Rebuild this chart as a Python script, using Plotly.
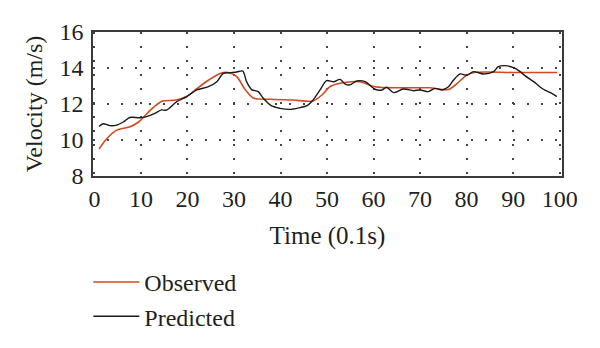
import plotly.graph_objects as go

# Observed velocity samples (time in 0.1 s, velocity in m/s)
obs_t = [1, 2.6, 4.8, 7.5, 9.5, 12, 14.5, 17.5, 20, 22, 24.5, 27, 28.8, 30.6,
         32.4, 34.2, 37.7, 42.7, 47, 48.9, 50.6, 52.8, 57, 60.3, 65.7, 72,
         76, 78, 80, 82, 90, 99.5]
obs_v = [9.5, 10.06, 10.55, 10.72, 11.0, 11.65, 12.15, 12.22, 12.45, 12.85,
         13.32, 13.7, 13.75, 13.52, 12.8, 12.33, 12.26, 12.22, 12.17, 12.5,
         12.96, 13.15, 13.24, 12.96, 12.9, 12.9, 12.8, 13.15, 13.6, 13.76,
         13.75, 13.75]

# Predicted velocity samples
pred_t = [1, 1.9, 3.3, 4.8, 6.2, 7.6, 9.8, 11.2, 13, 14.4, 15.5, 17.7, 19.8,
          22, 24.5, 26.3, 27.7, 29.1, 30.6, 31.9, 32.7, 33.8, 35.2, 36.3,
          38.1, 39.9, 42, 44.2, 45.6, 47, 48.5, 49.9, 51.4, 52.8, 53.9, 54.9,
          56.4, 58.2, 60.3, 61.8, 62.8, 64.3, 66.4, 68.6, 70, 71.8, 73.2,
          74.7, 76.1, 77.2, 78.6, 80, 81.5, 83.6, 85.8, 86.8, 88.3, 90.1,
          91.5, 92.6, 94.4, 96.5, 98, 99.4]
pred_v = [10.75, 10.9, 10.8, 10.83, 11.0, 11.25, 11.24, 11.3, 11.48, 11.67,
          11.66, 12.13, 12.4, 12.78, 12.96, 13.24, 13.7, 13.74, 13.78, 13.83,
          13.24, 12.8, 12.69, 12.32, 11.89, 11.76, 11.7, 11.8, 11.89, 12.22,
          12.78, 13.3, 13.24, 13.37, 13.11, 13.06, 13.28, 13.24, 12.82, 12.78,
          12.93, 12.63, 12.83, 12.74, 12.78, 12.69, 12.87, 12.78, 12.96, 13.33,
          13.67, 13.6, 13.8, 13.67, 13.8, 14.07, 14.13, 14.02, 13.8, 13.56,
          13.24, 12.82, 12.63, 12.41]

x_ticks = [0, 10, 20, 30, 40, 50, 60, 70, 80, 90, 100]
y_ticks = [8, 10, 12, 14, 16]

FONT = "Liberation Serif"
TEXT = "#231f20"
FRAME = "#3a3a3a"

fig = go.Figure()
fig.add_trace(go.Scatter(
    x=obs_t, y=obs_v, name="Observed", mode="lines",
    line=dict(color="#d44a1c", width=1.6, shape="spline", smoothing=0.8),
))
fig.add_trace(go.Scatter(
    x=pred_t, y=pred_v, name="Predicted", mode="lines",
    line=dict(color="#1a1a1a", width=1.4, shape="spline", smoothing=0.8),
))

fig.update_layout(
    width=600, height=348,
    margin=dict(l=93, r=38, t=32, b=172, autoexpand=False),
    paper_bgcolor="white", plot_bgcolor="white",
    font=dict(family=FONT, size=24, color=TEXT),
    showlegend=True,
    legend=dict(
        x=-0.01, xref="paper", y=0.253, yref="container",
        xanchor="left", yanchor="top",
        font=dict(family=FONT, size=24, color=TEXT),
        bgcolor="rgba(0,0,0,0)", itemwidth=46, tracegroupgap=0,
    ),
)

fig.update_xaxes(
    range=[-0.3, 100.5], tickvals=x_ticks, ticktext=[str(v) for v in x_ticks],
    showline=True, mirror=True, linecolor=FRAME, linewidth=1.5,
    showgrid=True, gridcolor="#444", gridwidth=1.5, griddash="1.5px,12.5px",
    zeroline=False, ticks="", ticklen=0,
    tickfont=dict(family=FONT, size=24, color=TEXT),
    title=dict(text="Time (0.1s)", font=dict(family=FONT, size=25, color=TEXT),
               standoff=16),
)
fig.update_yaxes(
    range=[8, 16], tickvals=y_ticks, ticktext=[str(v) for v in y_ticks],
    showline=True, mirror=True, linecolor=FRAME, linewidth=1.5,
    showgrid=True, gridcolor="#444", gridwidth=1.5, griddash="1.5px,12.5px",
    zeroline=False, ticks="", ticklen=0, ticklabelstandoff=3,
    tickfont=dict(family=FONT, size=24, color=TEXT),
    title=dict(text="Velocity (m/s)", font=dict(family=FONT, size=24, color=TEXT),
               standoff=10),
)

fig.write_html("out.html")
